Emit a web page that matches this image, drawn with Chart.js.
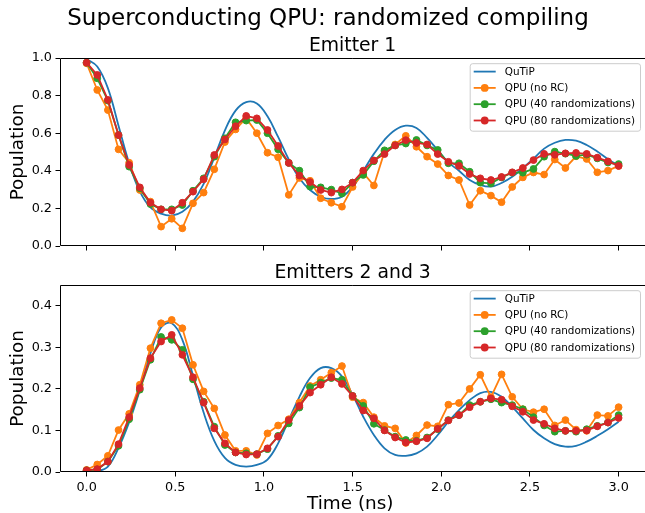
<!DOCTYPE html>
<html><head><meta charset="utf-8">
<script src="https://cdn.jsdelivr.net/npm/chart.js@4/dist/chart.umd.min.js"></script>
<style>
html,body{margin:0;padding:0;background:#fff;overflow:hidden;width:645px;height:513px;}
canvas{position:absolute;left:0;}
#c1{top:0;}
#c2{top:260px;}
</style></head><body>
<canvas id="c1" width="645" height="260"></canvas>
<canvas id="c2" width="645" height="253"></canvas>
<script>
// ---------- data ----------
const timeNs = [0.00,0.06,0.12,0.18,0.24,0.30,0.36,0.42,0.48,0.54,0.60,0.66,0.72,0.78,0.84,0.90,0.96,1.02,1.08,1.14,1.20,1.26,1.32,1.38,1.44,1.50,1.56,1.62,1.68,1.74,1.80,1.86,1.92,1.98,2.04,2.10,2.16,2.22,2.28,2.34,2.40,2.46,2.52,2.58,2.64,2.70,2.76,2.82,2.88,2.94,3.00];
const xTicks = [0,0.5,1.0,1.5,2.0,2.5,3.0];
const yTicksTop = [0,0.2,0.4,0.6,0.8,1.0];
const yTicksBottom = [0,0.1,0.2,0.3,0.4];
const seriesNames = ['QuTiP','QPU (no RC)','QPU (40 randomizations)','QPU (80 randomizations)'];
const suptitleText = 'Superconducting QPU: randomized compiling';
const panelTitles = ['Emitter 1','Emitters 2 and 3'];

// Emitter 1
const e1QuTiP = [0.995,0.955,0.84,0.64,0.44,0.29,0.205,0.172,0.162,0.182,0.236,0.33,0.47,0.615,0.72,0.765,0.758,0.69,0.58,0.46,0.36,0.298,0.262,0.25,0.262,0.315,0.40,0.49,0.565,0.617,0.64,0.628,0.575,0.51,0.445,0.40,0.351,0.325,0.316,0.335,0.368,0.415,0.465,0.518,0.549,0.564,0.56,0.537,0.502,0.462,0.428];
const e1NoRC = [0.972,0.83,0.723,0.514,0.443,0.298,0.236,0.103,0.145,0.094,0.227,0.284,0.408,0.553,0.62,0.68,0.60,0.496,0.472,0.272,0.362,0.347,0.254,0.23,0.209,0.314,0.389,0.322,0.502,0.54,0.586,0.528,0.475,0.436,0.375,0.351,0.218,0.294,0.268,0.233,0.314,0.365,0.391,0.38,0.46,0.415,0.477,0.463,0.392,0.401,0.426];
const e1RC40 = [0.975,0.892,0.773,0.59,0.422,0.307,0.223,0.195,0.195,0.218,0.294,0.36,0.475,0.573,0.658,0.667,0.67,0.6,0.514,0.442,0.401,0.316,0.312,0.3,0.279,0.337,0.378,0.451,0.509,0.535,0.545,0.564,0.535,0.511,0.44,0.44,0.395,0.337,0.333,0.365,0.39,0.39,0.41,0.475,0.502,0.491,0.479,0.486,0.466,0.444,0.436];
const e1RC80 = [0.975,0.91,0.777,0.59,0.431,0.312,0.23,0.195,0.188,0.23,0.289,0.355,0.484,0.567,0.637,0.692,0.679,0.617,0.532,0.442,0.375,0.34,0.298,0.284,0.301,0.337,0.401,0.455,0.489,0.535,0.563,0.548,0.54,0.489,0.448,0.426,0.383,0.36,0.351,0.367,0.392,0.415,0.457,0.49,0.485,0.493,0.495,0.49,0.47,0.45,0.426];

// Emitters 2 and 3
const e23QuTiP = [0.0,0.002,0.013,0.058,0.12,0.197,0.285,0.348,0.358,0.318,0.232,0.143,0.075,0.034,0.017,0.013,0.017,0.03,0.069,0.125,0.181,0.226,0.25,0.25,0.23,0.186,0.133,0.089,0.057,0.041,0.039,0.045,0.061,0.089,0.121,0.149,0.173,0.19,0.193,0.181,0.157,0.129,0.101,0.081,0.067,0.061,0.063,0.073,0.087,0.103,0.121];
const e23NoRC = [0.005,0.018,0.039,0.101,0.14,0.21,0.298,0.358,0.366,0.346,0.258,0.194,0.153,0.089,0.051,0.051,0.041,0.093,0.112,0.127,0.167,0.207,0.222,0.239,0.255,0.18,0.167,0.132,0.111,0.105,0.07,0.088,0.113,0.11,0.162,0.166,0.2,0.234,0.18,0.235,0.181,0.151,0.144,0.151,0.112,0.125,0.102,0.099,0.137,0.135,0.156];
const e23RC40 = [0.004,0.006,0.025,0.063,0.127,0.198,0.27,0.325,0.318,0.294,0.223,0.169,0.109,0.065,0.047,0.045,0.043,0.055,0.087,0.117,0.155,0.204,0.215,0.226,0.222,0.183,0.159,0.116,0.101,0.085,0.077,0.075,0.083,0.103,0.125,0.137,0.161,0.169,0.175,0.167,0.161,0.151,0.132,0.112,0.097,0.099,0.097,0.103,0.111,0.119,0.137];
const e23RC80 = [0.004,0.007,0.025,0.067,0.132,0.202,0.274,0.314,0.33,0.282,0.228,0.167,0.105,0.069,0.047,0.042,0.043,0.057,0.085,0.125,0.159,0.191,0.21,0.228,0.212,0.183,0.148,0.129,0.1,0.083,0.071,0.074,0.081,0.104,0.124,0.137,0.156,0.169,0.177,0.174,0.158,0.145,0.125,0.116,0.105,0.099,0.099,0.1,0.11,0.119,0.13];

// ---------- styling ----------
const FONT = '"DejaVu Sans", sans-serif';
Chart.defaults.font.family = FONT;
Chart.defaults.color = '#000';
const COLORS = ['#1f77b4','#ff7f0e','#2ca02c','#d62728'];

function mkDataset(idx, arr) {
  const marker = idx > 0;
  return {
    label: seriesNames[idx],
    data: timeNs.map((t, i) => ({x: t, y: arr[i]})),
    borderColor: COLORS[idx],
    backgroundColor: COLORS[idx],
    borderWidth: 1.8,
    pointRadius: marker ? 3.4 : 0,
    pointBorderWidth: marker ? 1 : 0,
    pointBackgroundColor: COLORS[idx],
    pointBorderColor: COLORS[idx],
    pointHoverRadius: 0,
    tension: marker ? 0 : 0.4,
    fill: false,
    order: 3 - idx
  };
}

const decor = {
  id: 'mplDecor',
  afterDatasetsDraw(chart) {
    const {ctx, chartArea: a, scales} = chart;
    const xr = scales.x.getPixelForValue(3.15);
    ctx.save();
    ctx.strokeStyle = '#000';
    ctx.lineWidth = 1;
    ctx.beginPath();
    const L = Math.round(a.left) + 0.5, T = Math.round(a.top) + 0.5, B = Math.round(a.bottom) - 0.5;
    ctx.moveTo(L, T); ctx.lineTo(L, B);
    ctx.moveTo(L, B); ctx.lineTo(xr, B);
    ctx.moveTo(L, T); ctx.lineTo(xr, T);
    ctx.stroke();
    ctx.restore();
  },
  afterDraw(chart, args, opts) {
    const {ctx, chartArea: a, scales} = chart;
    const xs = scales.x;
    ctx.save();
    ctx.fillStyle = '#000';
    ctx.textAlign = 'center';
    ctx.textBaseline = 'alphabetic';
    if (opts.suptitle) {
      ctx.font = '23px ' + FONT;
      ctx.fillText(opts.suptitle, 328, 25);
    }
    if (opts.title) {
      ctx.font = '18.8px ' + FONT;
      ctx.fillText(opts.title, xs.getPixelForValue(1.5), a.top - 7.5);
    }
    // legend
    const fs = 10.4;
    ctx.font = fs + 'px ' + FONT;
    const dsets = chart.data.datasets;
    let maxW = 0;
    dsets.forEach(d => { maxW = Math.max(maxW, ctx.measureText(d.label).width); });
    const pad = 4, hl = 22, gap = 9, rowH = 16.3;
    const w = pad + hl + gap + maxW + pad + 1;
    const h = 67.5;
    const right = xs.getPixelForValue(3.15) - 5.2;
    const top = a.top + 5.2;
    const left = right - w;
    ctx.beginPath();
    if (ctx.roundRect) ctx.roundRect(left + 0.5, top + 0.5, w, h, 2.5); else ctx.rect(left + 0.5, top + 0.5, w, h);
    ctx.fillStyle = 'rgba(255,255,255,0.8)';
    ctx.fill();
    ctx.strokeStyle = '#cccccc';
    ctx.lineWidth = 1;
    ctx.stroke();
    ctx.textAlign = 'left';
    ctx.textBaseline = 'middle';
    dsets.forEach((d, i) => {
      const cy = top + 8.4 + i * rowH;
      const hx0 = left + pad, hx1 = left + pad + hl;
      ctx.strokeStyle = d.borderColor;
      ctx.lineWidth = 1.8;
      ctx.beginPath(); ctx.moveTo(hx0, cy); ctx.lineTo(hx1, cy); ctx.stroke();
      if (d.pointRadius > 0) {
        ctx.fillStyle = d.borderColor;
        ctx.beginPath(); ctx.arc((hx0 + hx1) / 2, cy, 3.9, 0, Math.PI * 2); ctx.fill();
      }
      ctx.fillStyle = '#000';
      ctx.fillText(d.label, hx1 + gap, cy + 0.5);
    });
    ctx.restore();
  }
};

function buildChart(id, arrays, yMax, yTicks, cfg) {
  return new Chart(document.getElementById(id), {
    type: 'line',
    data: {datasets: arrays.map((arr, i) => mkDataset(i, arr))},
    options: {
      responsive: false,
      animation: false,
      devicePixelRatio: 1,
      events: [],
      layout: {padding: {top: cfg.padTop, left: 0, right: 0, bottom: 0}},
      plugins: {
        legend: {display: false},
        tooltip: {enabled: false},
        mplDecor: {title: cfg.title, suptitle: cfg.suptitle}
      },
      scales: {
        x: {
          type: 'linear', min: -0.15, max: 3.124,
          afterBuildTicks: s => { s.ticks = xTicks.map(v => ({value: v})); },
          afterFit: s => { s.height = cfg.xHeight; },
          ticks: {display: cfg.showX, callback: v => Number(v).toFixed(1), color: '#000',
                  font: {size: 12.8}, padding: 3.5, maxRotation: 0, minRotation: 0, autoSkip: false},
          grid: {display: true, drawOnChartArea: false, drawTicks: true, tickLength: 4.5, tickColor: '#000', tickWidth: 1},
          border: {display: false},
          title: {display: cfg.showX, text: 'Time (ns)', color: '#000', font: {size: 18.4, lineHeight: 1}, padding: {top: 0, bottom: 0}}
        },
        y: {
          type: 'linear', min: 0, max: yMax,
          afterBuildTicks: s => { s.ticks = yTicks.map(v => ({value: v})); },
          afterFit: s => { s.width = 60; },
          ticks: {callback: v => Number(v).toFixed(1), color: '#000', font: {size: 12.8}, padding: 3.5, autoSkip: false},
          grid: {display: true, drawOnChartArea: false, drawTicks: true, tickLength: 4.5, tickColor: '#000', tickWidth: 1},
          border: {display: false},
          title: {display: true, text: 'Population', color: '#000', font: {size: 18.4, lineHeight: 1.2}, padding: {top: 7, bottom: 0}}
        }
      }
    },
    plugins: [decor]
  });
}

buildChart('c1', [e1QuTiP, e1NoRC, e1RC40, e1RC80], 1.0, yTicksTop,
  {padTop: 58, xHeight: 14, showX: false, title: panelTitles[0], suptitle: suptitleText});
buildChart('c2', [e23QuTiP, e23NoRC, e23RC40, e23RC80], 0.45, yTicksBottom,
  {padTop: 25, xHeight: 41, showX: true, title: panelTitles[1], suptitle: null});
</script>
</body></html>
